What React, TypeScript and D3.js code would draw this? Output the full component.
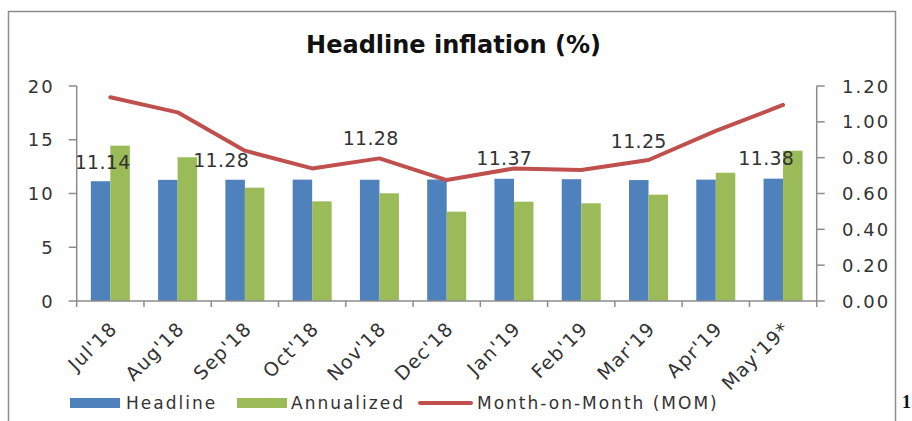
import React from "react";
import * as d3 from "d3";

const categories = ["Jul'18", "Aug'18", "Sep'18", "Oct'18", "Nov'18", "Dec'18", "Jan'19", "Feb'19", "Mar'19", "Apr'19", "May'19*"];
const headline = [11.14, 11.27, 11.28, 11.29, 11.28, 11.3, 11.37, 11.33, 11.25, 11.29, 11.38];
const annualized = [14.45, 13.37, 10.54, 9.27, 10.02, 8.31, 9.24, 9.09, 9.89, 11.93, 13.98];
const mom = [1.137, 1.053, 0.839, 0.74, 0.796, 0.675, 0.74, 0.731, 0.787, 0.95, 1.094];
const leftTicks = [0, 5, 10, 15, 20];
const rightTicks = [0, 0.2, 0.4, 0.6, 0.8, 1.0, 1.2];
const labelIndices = [0, 2, 4, 6, 8, 10];
// layout offsets of the (manually placed) data labels, in px
const labelDx = [2, -14, 1, 0, 0, -7];
const labelDy = [-19, -20, -42, -21, -39, -21];

const W = 912;
const H = 421;
const plotL = 76.7;
const plotR = 816.7;
const plotT = 86;
const plotB = 301;
const axisColor = "#8c8c8c";
const blue = "#4F81BD";
const green = "#9BBB59";
const red = "#C0504D";
const font = "'DejaVu Sans', sans-serif";

export default function App() {
  const x = d3.scaleBand<string>().domain(categories).range([plotL, plotR]).paddingInner(0).paddingOuter(0);
  const band = x.bandwidth();
  const barW = band / (2 + 1.45);
  const sub = d3.scaleBand<string>().domain(["h", "a"]).range([band / 2 - barW, band / 2 + barW]);
  const yL = d3.scaleLinear().domain([0, 20]).range([plotB, plotT]);
  const yR = d3.scaleLinear().domain([0, 1.2]).range([plotB, plotT]);
  const cx = (c: string) => (x(c) as number) + band / 2;

  const line = d3
    .line<number>()
    .x((_, i) => cx(categories[i]))
    .y((d) => yR(d))
    .curve(d3.curveLinear);

  const boundaries = d3.range(categories.length + 1).map((i) => plotL + i * band);

  return (
    <svg width={W} height={H} style={{ position: "absolute", left: 0, top: 0, background: "#fff" }} fontFamily={font}>
      <rect x={0} y={0} width={W} height={H} fill="#fff" />
      <rect x={8.5} y={11.5} width={887} height={430} fill="none" stroke={axisColor} strokeWidth={1.5} />
      <text x={453.5} y={53} textAnchor="middle" fontSize={24} fontWeight="bold" fill="#111">
        Headline inflation (%)
      </text>

      {/* bars */}
      {categories.map((c, i) => (
        <g key={c}>
          <rect x={(x(c) as number) + (sub("h") as number)} y={yL(headline[i])} width={sub.bandwidth()} height={plotB - yL(headline[i])} fill={blue} />
          <rect x={(x(c) as number) + (sub("a") as number)} y={yL(annualized[i])} width={sub.bandwidth()} height={plotB - yL(annualized[i])} fill={green} />
        </g>
      ))}

      {/* line */}
      <path d={line(mom) || ""} fill="none" stroke={red} strokeWidth={4} strokeLinejoin="round" strokeLinecap="round" />

      {/* data labels */}
      {labelIndices.map((idx, k) => {
        const c = categories[idx];
        const bx = (x(c) as number) + (sub("h") as number) + sub.bandwidth() / 2;
        return (
          <text key={c} x={bx + labelDx[k]} y={yL(headline[idx]) + labelDy[k]} textAnchor="middle" dominantBaseline="central" fontSize={19} letterSpacing={0.3} fill="#333">
            {headline[idx].toFixed(2)}
          </text>
        );
      })}

      {/* left axis */}
      <line x1={plotL} x2={plotL} y1={plotT} y2={plotB} stroke={axisColor} strokeWidth={1.5} />
      {leftTicks.map((t) => (
        <g key={t}>
          <line x1={plotL - 8} x2={plotL} y1={yL(t)} y2={yL(t)} stroke={axisColor} strokeWidth={1.5} />
          <text x={54.7} y={yL(t)} textAnchor="end" dominantBaseline="central" fontSize={18} letterSpacing={2} fill="#333">
            {t}
          </text>
        </g>
      ))}

      {/* right axis */}
      <line x1={plotR} x2={plotR} y1={plotT} y2={plotB} stroke={axisColor} strokeWidth={1.5} />
      {rightTicks.map((t) => (
        <g key={t}>
          <line x1={plotR} x2={plotR + 8} y1={yR(t)} y2={yR(t)} stroke={axisColor} strokeWidth={1.5} />
          <text x={842} y={yR(t)} textAnchor="start" dominantBaseline="central" fontSize={18} letterSpacing={2} fill="#333">
            {t.toFixed(2)}
          </text>
        </g>
      ))}

      {/* bottom axis */}
      <line x1={plotL} x2={plotR} y1={plotB} y2={plotB} stroke={axisColor} strokeWidth={1.5} />
      {boundaries.map((b, i) => (
        <line key={i} x1={b} x2={b} y1={plotB} y2={plotB + 6} stroke={axisColor} strokeWidth={1.5} />
      ))}
      {categories.map((c) => (
        <text
          key={c}
          transform={`translate(${cx(c) + 3},${plotB + 24}) rotate(-45)`}
          textAnchor="end"
          dominantBaseline="central"
          fontSize={19}
          letterSpacing={1.2}
          fill="#333"
        >
          {c}
        </text>
      ))}

      {/* legend */}
      <rect x={70} y={398} width={50} height={10} fill={blue} />
      <text x={126} y={409} fontSize={17} letterSpacing={2} fill="#333">Headline</text>
      <rect x={237} y={398} width={50} height={10} fill={green} />
      <text x={291} y={409} fontSize={17} letterSpacing={2} fill="#333">Annualized</text>
      <line x1={420} x2={471} y1={403} y2={403} stroke={red} strokeWidth={4} strokeLinecap="round" />
      <text x={477} y={409} fontSize={17} letterSpacing={2} fill="#333">Month-on-Month (MOM)</text>

      <text x={902} y={408} fontSize={18} fontWeight="bold" fontFamily="'Liberation Serif', serif" fill="#111">1</text>
    </svg>
  );
}
